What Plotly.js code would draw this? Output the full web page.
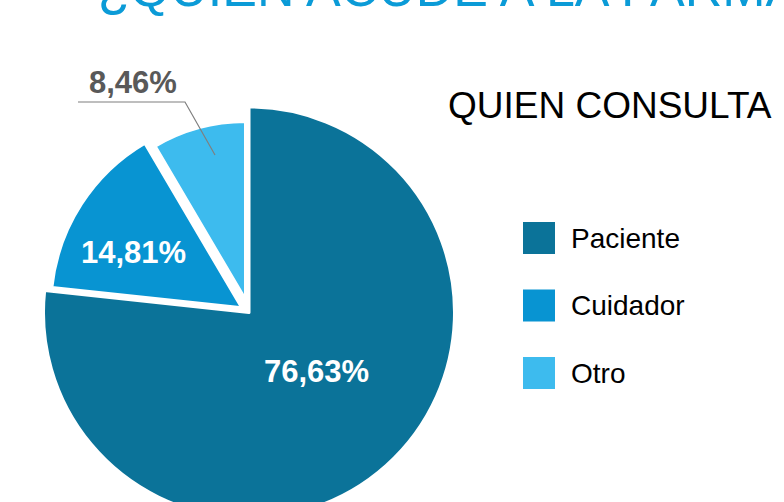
<!DOCTYPE html>
<html>
<head>
<meta charset="utf-8">
<script src="https://cdn.plot.ly/plotly-3.0.1.min.js"></script>
<style>
  html, body { margin: 0; padding: 0; width: 784px; height: 502px; overflow: hidden; background: #ffffff; }
  #chart { position: absolute; left: 0; top: -40px; width: 784px; height: 640px; }
</style>
</head>
<body>
<div id="chart"></div>
<script>
// ---- data ----
const categories = ['Paciente', 'Cuidador', 'Otro'];
const values = [76.63, 14.81, 8.46];
const chartTitle = '¿QUIÉN ACUDE A LA FARMACIA?';
const legendTitle = 'QUIEN CONSULTA';

// ---- styles / layout constants ----
const colors = ['#0b7399', '#0894d2', '#3dbbee'];
const W = 784, H = 640, TOP = 40;
const X = px => px / W;
const Y = py => 1 - (py + TOP) / H;
const FONT = 'Liberation Sans, Arial, sans-serif';

const center = [249, 312.5];
const radii = [205.5, 191, 178];
const pulls = [0, 0.045, 0.075];

const traces = categories.map((cat, i) => {
  const half = radii[i] * (1 + pulls[i]);
  return {
    type: 'pie',
    labels: categories,
    values: values,
    sort: false,
    direction: 'clockwise',
    rotation: 0,
    textinfo: 'none',
    hoverinfo: 'skip',
    showlegend: false,
    pull: categories.map((c, j) => j === i ? pulls[i] : 0),
    marker: {
      colors: categories.map((c, j) => j === i ? colors[i] : 'rgba(0,0,0,0)'),
      line: { color: '#ffffff', width: categories.map((c, j) => j === i ? 3 : 0) }
    },
    domain: {
      x: [X(center[0] - half), X(center[0] + half)],
      y: [Y(center[1] + half), Y(center[1] - half)]
    }
  };
});

const fmt = v => v.toFixed(2).replace('.', ',') + '%';

const labelPos = [[316, 371], [133.5, 252.5], [133, 82]];
const labelColor = ['#ffffff', '#ffffff', '#595959'];

const annotations = [];
const shapes = [];

// slice labels
categories.forEach((c, i) => {
  annotations.push({
    xref: 'paper', yref: 'paper',
    x: X(labelPos[i][0]), y: Y(labelPos[i][1]),
    xanchor: 'center', yanchor: 'middle',
    text: fmt(values[i]), showarrow: false,
    font: { family: FONT, size: 31, color: labelColor[i], weight: 'bold' }
  });
});

// leader line for the outside label
const leader = [[78, 102], [185, 102], [215, 155]];
shapes.push({
  type: 'path', xref: 'paper', yref: 'paper',
  path: 'M' + leader.map(p => X(p[0]) + ',' + Y(p[1])).join(' L'),
  line: { color: '#7f7f7f', width: 1.2 }
});

// title
annotations.push({
  xref: 'paper', yref: 'paper', x: X(96), y: Y(-11.6),
  xanchor: 'left', yanchor: 'middle', showarrow: false,
  text: chartTitle,
  font: { family: FONT, size: 52, color: '#0b9bd7' }
});

// legend title
annotations.push({
  xref: 'paper', yref: 'paper', x: X(446), y: Y(105),
  xanchor: 'left', yanchor: 'middle', showarrow: false,
  text: legendTitle,
  font: { family: FONT, size: 37, color: '#000000' }
});

// legend items
const legTop = 222, legStep = 67.5, sq = 32, legX = 523;
categories.forEach((c, i) => {
  const y0 = legTop + i * legStep;
  shapes.push({
    type: 'rect', xref: 'paper', yref: 'paper',
    x0: X(legX), x1: X(legX + sq), y0: Y(y0 + sq), y1: Y(y0),
    fillcolor: colors[i], line: { width: 0 }
  });
  annotations.push({
    xref: 'paper', yref: 'paper', x: X(569), y: Y(y0 + sq / 2),
    xanchor: 'left', yanchor: 'middle', showarrow: false,
    text: c,
    font: { family: FONT, size: 28, color: '#000000' }
  });
});

const layout = {
  width: W, height: H,
  margin: { l: 0, r: 0, t: 0, b: 0 },
  paper_bgcolor: '#ffffff',
  plot_bgcolor: '#ffffff',
  showlegend: false,
  separators: ',.',
  annotations: annotations,
  shapes: shapes
};

Plotly.newPlot('chart', traces, layout, { displayModeBar: false, staticPlot: true });
</script>
</body>
</html>
